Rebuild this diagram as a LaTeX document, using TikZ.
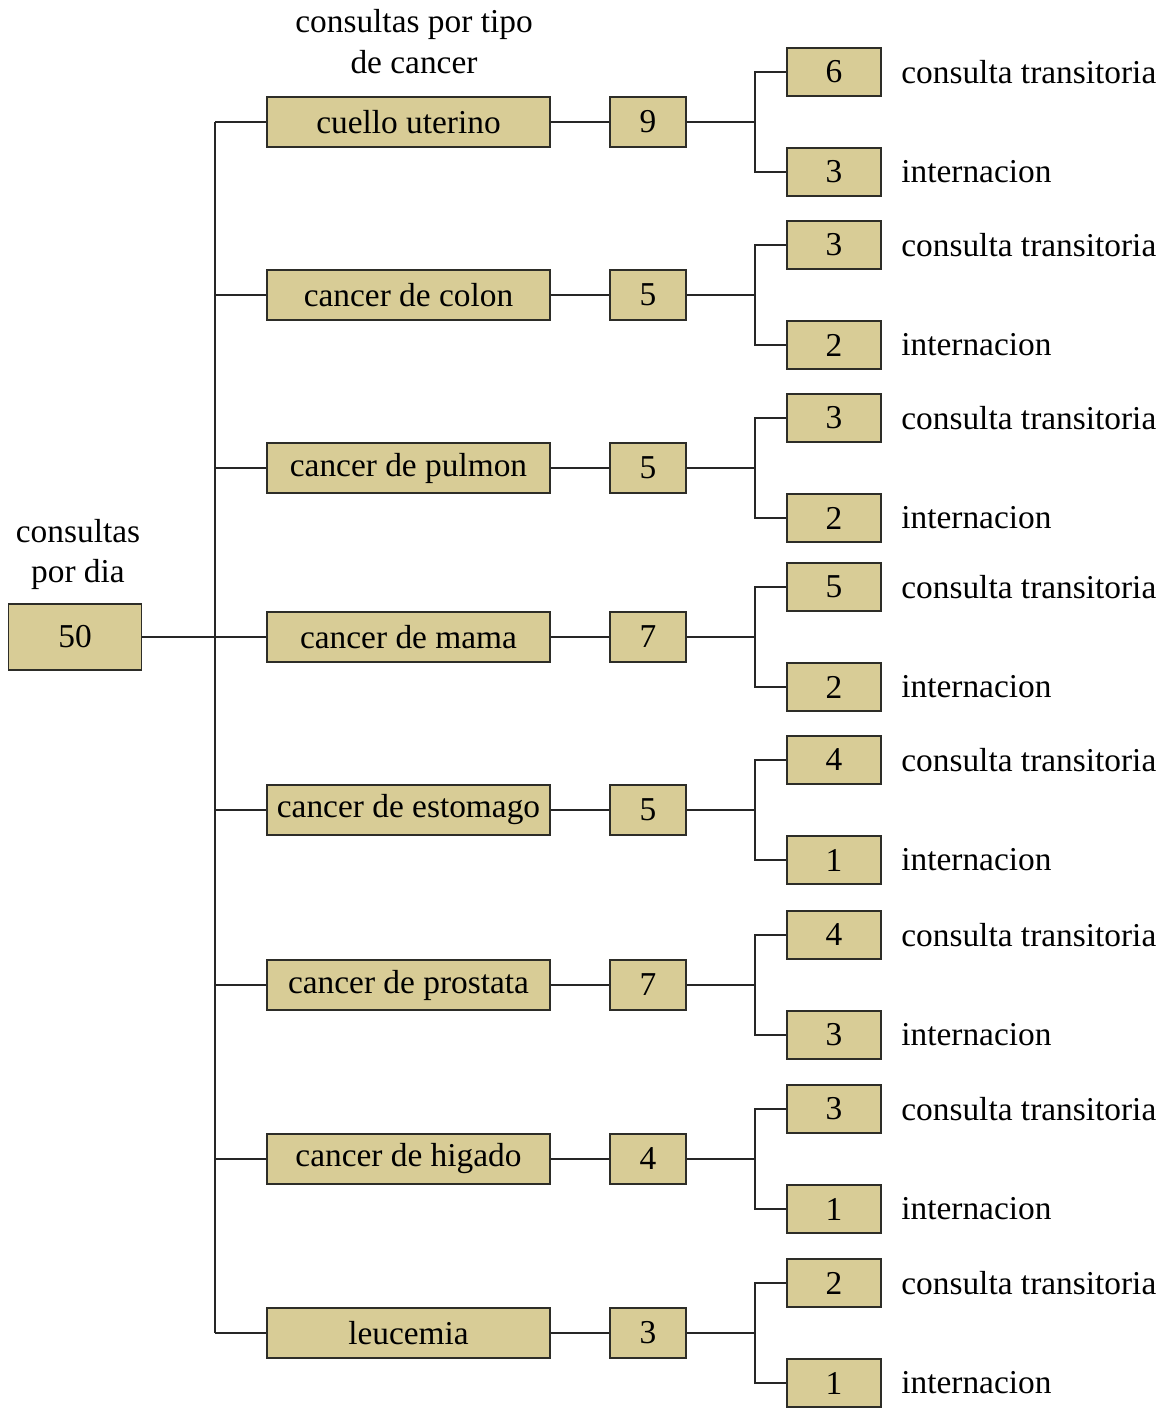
\documentclass[tikz,border=0pt]{standalone}
\usepackage{fontspec}
\setmainfont{Liberation Serif}
\usepackage{xcolor}
\usetikzlibrary{positioning,calc}
\definecolor{boxfill}{RGB}{216,204,150}
\definecolor{boxline}{RGB}{45,45,40}

\tikzset{
	cbox/.style={draw=boxline,fill=boxfill,line width=1.1pt,inner sep=0pt,
		font=\fontsize{19}{23}\selectfont},
	catbox/.style={cbox,minimum width=5.66cm,minimum height=1cm},
	numbox/.style={cbox,minimum width=1.52cm,minimum height=1cm},
	leafbox/.style={cbox,minimum width=1.88cm,minimum height=0.96cm},
	rootbox/.style={cbox,minimum width=2.66cm,minimum height=1.32cm},
	lbl/.style={font=\fontsize{19}{23}\selectfont,inner sep=0pt},
	conn/.style={line width=1.1pt,draw=black!85}
}

\begin{document}
\begin{tikzpicture}[x=0.02cm,y=-0.02cm]
	\useasboundingbox (0,0) rectangle (1164,1408);
	
	% root and titles
	\node[rootbox] (root) at (75,637) {50};
	\node[lbl,align=center,anchor=south] (roottitle) at (78,590) {consultas\\por dia};
	\node[lbl,align=center,anchor=south] (cattitle) at (414,74) {consultas por tipo\\de cancer};
	
	\coordinate (trunk) at (215,0);
	
	% one row per type of cancer
	\foreach \i/\y/\name/\n/\ct/\inter in {
		1/122/cuello uterino/9/6/3,
		2/295/cancer de colon/5/3/2,
		3/468/cancer de pulmon/5/3/2,
		4/637/cancer de mama/7/5/2,
		5/810/cancer de estomago/5/4/1,
		6/985/cancer de prostata/7/4/3,
		7/1159/cancer de higado/4/3/1,
		8/1333/leucemia/3/2/1}{
		\node[catbox] (cat\i) at (408.5,\y) {\name};
		\node[numbox] (num\i) at (648,\y) {\n};
		\node[leafbox] (top\i) at (834,\y-50) {\ct};
		\node[leafbox] (bot\i) at (834,\y+50) {\inter};
		\node[lbl,anchor=west] (ctl\i) at (901,\y-50) {consulta transitoria};
		\node[lbl,anchor=west] (intl\i) at (901,\y+50) {internacion};
		\coordinate (br\i) at (755,\y);
		
		\draw[conn] (cat\i.west) -- (cat\i.west -| trunk);
		\draw[conn] (cat\i) -- (num\i);
		\draw[conn] (num\i.east) -- (br\i);
		\draw[conn] (top\i.west) -| (br\i) |- (bot\i.west);
	}
	
	% trunk
	\draw[conn] (cat1.west -| trunk) -- (cat8.west -| trunk);
	\draw[conn] (root) -- (cat4);
\end{tikzpicture}
\end{document}
